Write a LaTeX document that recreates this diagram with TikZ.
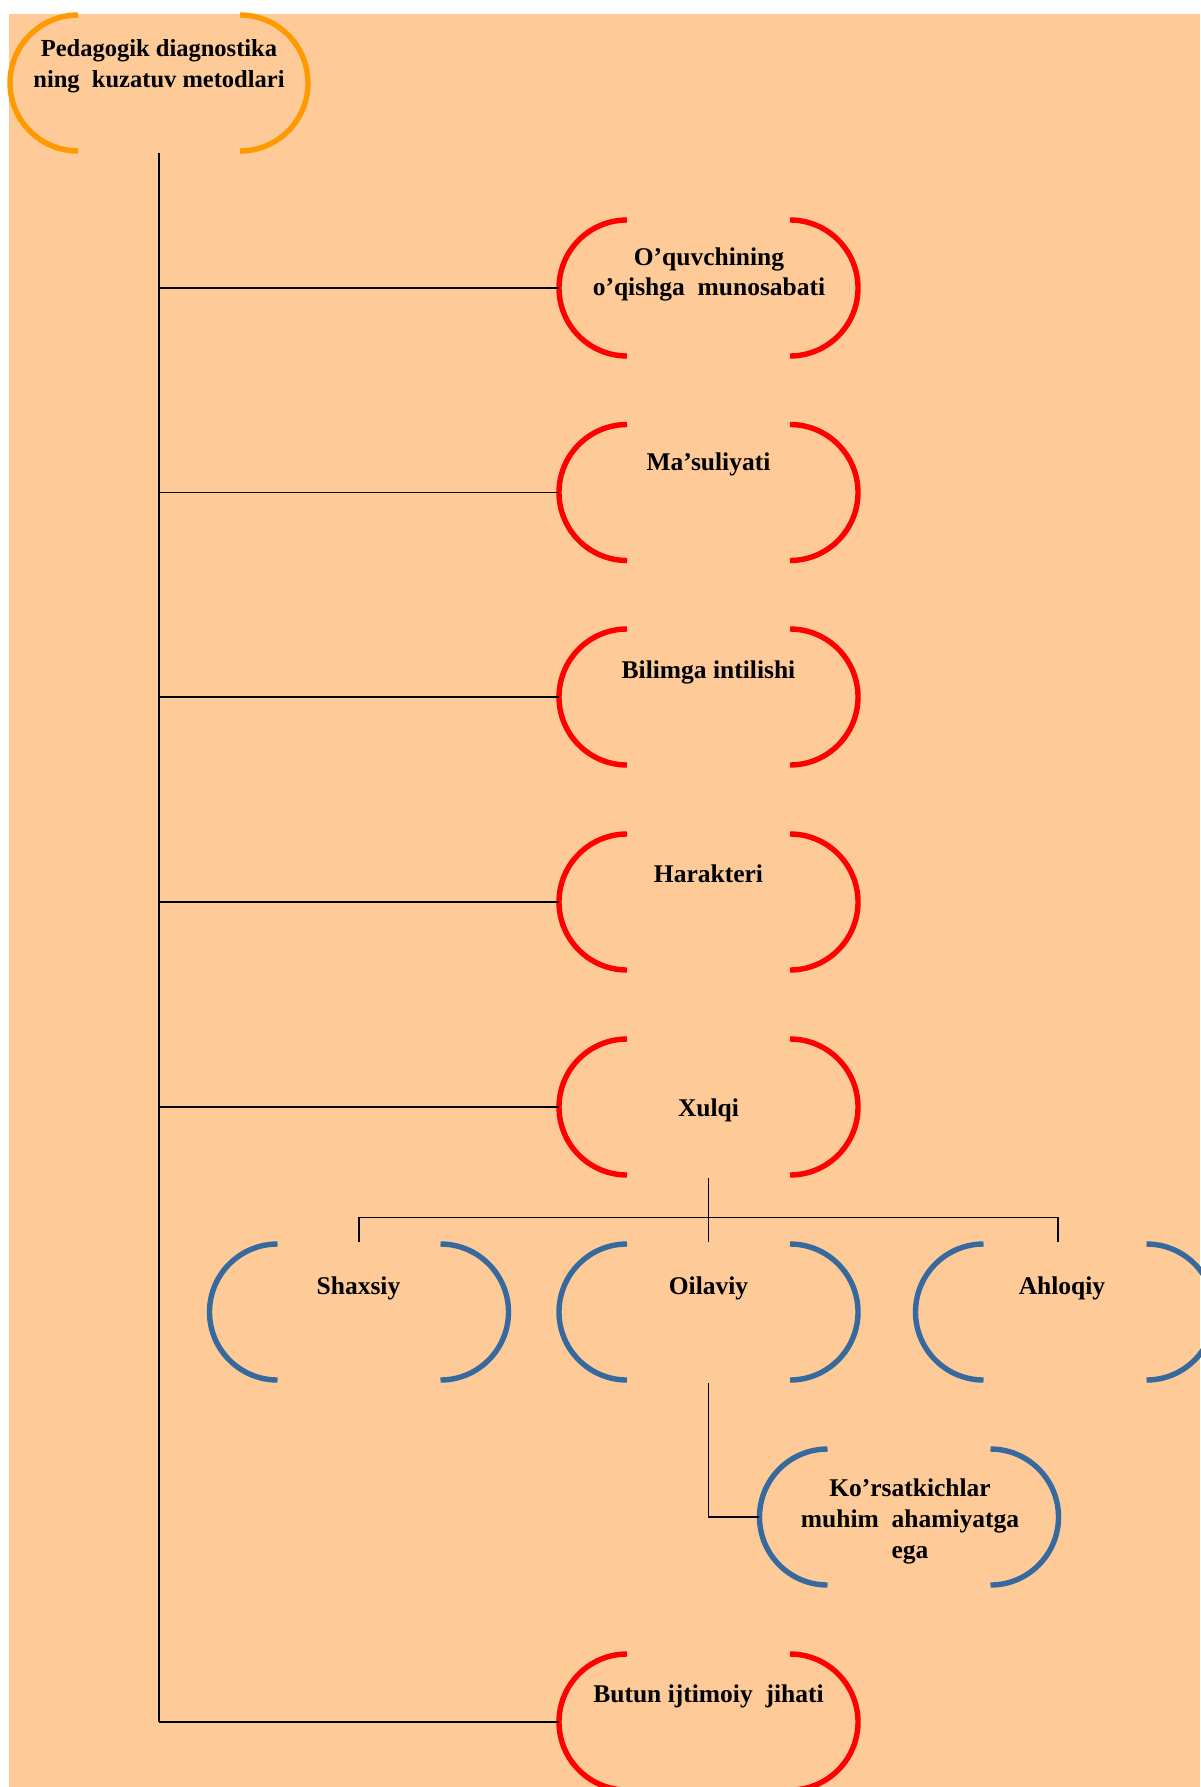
\documentclass[tikz,border=0pt]{standalone}
\usepackage{fontspec}
\setmainfont{Liberation Serif}
\usetikzlibrary{calc}
\definecolor{bg}{HTML}{FDCA98}
\definecolor{orng}{HTML}{FF9900}
\definecolor{redc}{HTML}{FF0000}
\definecolor{bluec}{HTML}{36699D}
\tikzset{
  box/.style={draw=none, inner sep=0pt, minimum width=149.5pt, minimum height=69.5pt},
  txt/.style={font=\bfseries\fontsize{12.75}{15}\selectfont, align=center, inner sep=0pt, anchor=base},
  conn/.style={line width=0.9pt, draw=black},
  brk/.style={line width=2.7pt},
}
\newcommand\brackets[3]{%
  \draw[brk,#2] ($(#1.center)+(-#3,-68)$) arc[start angle=90,end angle=270,radius=34pt];
  \draw[brk,#2] ($(#1.center)+(#3,-68)$) arc[start angle=90,end angle=-90,radius=34pt];
}
\begin{document}
\begin{tikzpicture}[x=0.5pt,y=-0.5pt]
\useasboundingbox (0,0) rectangle (1200,1787);
\fill[bg] (9,14) rectangle (1200,1787);

% boxes
\node[box] (top) at (159,83) {};
\node[box] (r1) at (708.5,288) {};
\node[box] (r2) at (708.5,492.5) {};
\node[box] (r3) at (708.5,697) {};
\node[box] (r4) at (708.5,902) {};
\node[box] (r5) at (708.5,1107) {};
\node[box] (r6) at (708.5,1722) {};
\node[box] (b1) at (359,1312) {};
\node[box] (b2) at (708.5,1312) {};
\node[box] (b3) at (1065,1312) {};
\node[box] (k) at (909,1517) {};

\brackets{top}{orng}{81}
\brackets{r1}{redc}{81.5}
\brackets{r2}{redc}{81.5}
\brackets{r3}{redc}{81.5}
\brackets{r4}{redc}{81.5}
\brackets{r5}{redc}{81.5}
\brackets{r6}{redc}{81.5}
\brackets{b1}{bluec}{81.5}
\brackets{b2}{bluec}{81.5}
\brackets{b3}{bluec}{81.5}
\brackets{k}{bluec}{81.5}

% texts (multi-line nodes: base = last line)
\node[txt, font=\bfseries\fontsize{12.25}{15.3}\selectfont] (ttop) at (159,87.3) {Pedagogik diagnostika\\ning\ \ kuzatuv metodlari};
\node[txt] (t1) at (709,295) {O’quvchining\\o’qishga\ \ munosabati};
\node[txt] (t2) at (708.5,470.7) {Ma’suliyati};
\node[txt] (t3) at (708.5,678) {Bilimga intilishi};
\node[txt] (t4) at (708.5,882.7) {Harakteri};
\node[txt] (t5) at (708.5,1116.7) {Xulqi};
\node[txt] (t6) at (708.5,1702.7) {Butun ijtimoiy\ \ jihati};
\node[txt] (tb1) at (358.5,1294) {Shaxsiy};
\node[txt] (tb2) at (708.5,1294) {Oilaviy};
\node[txt] (tb3) at (1062,1294) {Ahloqiy};
\node[txt, font=\bfseries\fontsize{12.75}{15.5}\selectfont] (tk) at (910,1558.3) {Ko’rsatkichlar\\muhim\ \ ahamiyatga\\ega};

% connectors
\draw[conn] (top.south) -- (top.south |- r6.west);
\foreach \r in {r1,r2,r3,r4,r5,r6}{
  \draw[conn] (top.south |- \r.west) -- (\r.west);
}
\draw[conn] ([yshift=-0.75pt]r5.south) -- (r5.south |- b2.north);
\coordinate (j) at ($(r5.south)+(0,40.5)$);
\coordinate (b3top) at ($(b3.north)+(-7,0)$);
\draw[conn] (b1.north) -- (b1.north |- j) -- (b3top |- j) -- (b3top);
\draw[conn] ([yshift=-0.75pt]b2.south) -- (b2.south |- k.west) -- (k.west);
\end{tikzpicture}
\end{document}
